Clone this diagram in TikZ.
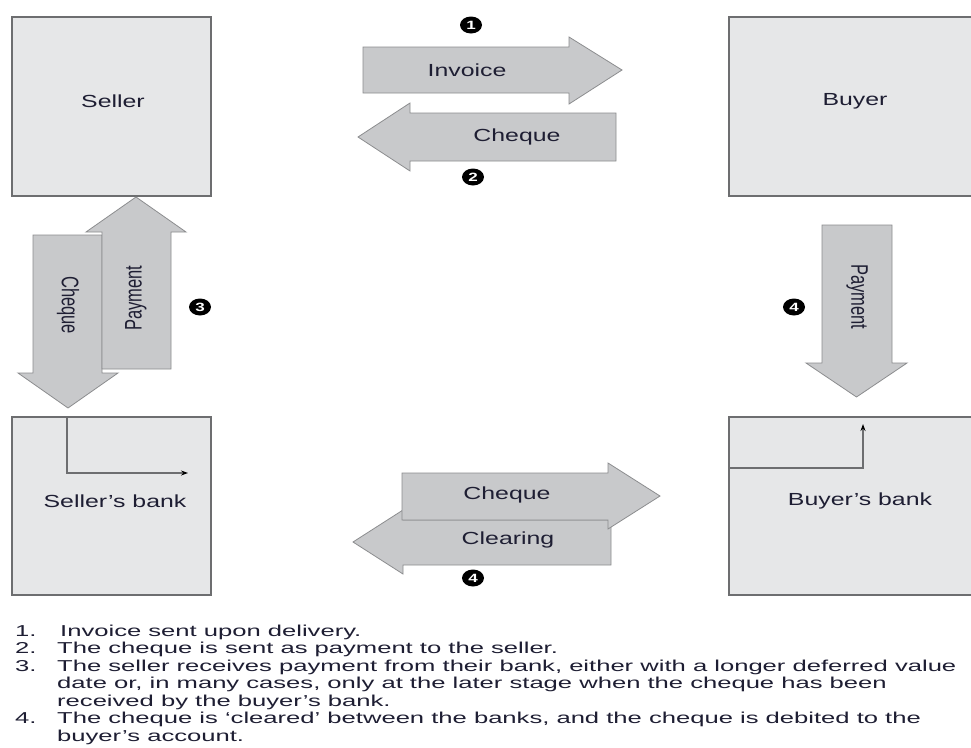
\documentclass[tikz,border=0pt]{standalone}
\usepackage{fontspec}
\setmainfont{Liberation Sans}
\newfontfamily\lblfont{Liberation Sans}[FakeStretch=1.42]
\newfontfamily\listfont{Liberation Sans}[FakeStretch=1.62]
\newfontfamily\rotfont{Liberation Sans}
\usetikzlibrary{shapes.geometric,arrows.meta}

\definecolor{boxfill}{HTML}{E6E7E8}
\definecolor{boxline}{HTML}{6D6E70}
\definecolor{arrowfill}{HTML}{C8C9CB}
\definecolor{arrowline}{HTML}{8C8D8F}
\definecolor{ink}{HTML}{1E1E33}

\newcommand{\rotlabel}[1]{\scalebox{1}[1.45]{\rotfont\fontsize{16.5}{18}\selectfont #1}}

\tikzset{
  party/.style={draw=boxline, fill=boxfill, line width=1.3pt, inner sep=0pt},
  flow/.style={draw=arrowline, fill=arrowfill, line width=0.8pt, line join=miter},
  lbl/.style={text=ink, font=\lblfont\fontsize{17.5}{20}\selectfont, inner sep=0pt},
  vlbl/.style={text=ink, inner sep=0pt},
  badge/.style={ellipse, fill=black, minimum width=22pt, minimum height=17pt,
    inner sep=0pt, text=white, font=\lblfont\bfseries\fontsize{12}{12}\selectfont},
  conn/.style={draw=boxline, line width=1.1pt, -{Stealth[length=7pt,width=5pt,color=black]}},
  listline/.style={anchor=west, text=ink, inner sep=0pt, text height=11pt, text depth=3pt,
    font=\listfont\fontsize{15.8}{17.5}\selectfont}
}

\begin{document}
\begin{tikzpicture}[x=1pt, y=-1pt]
  \fill[white] (0,0) rectangle (971,747);
  \useasboundingbox (0,0) rectangle (971,747);

  % the four parties
  \node[party, minimum width=199pt, minimum height=179pt] (seller) at (111.5,106.5) {};
  \node[party, minimum width=246pt, minimum height=179pt] (buyer) at (852,106.5) {};
  \node[party, minimum width=199pt, minimum height=178pt] (sbank) at (111.5,506) {};
  \node[party, minimum width=246pt, minimum height=178pt] (bbank) at (852,506) {};

  \node[lbl] (tseller) at (113,101) {Seller};
  \node[lbl] (tbuyer) at (855,101) {Buyer};
  \node[lbl] (tsbank) at (115,501) {Seller’s bank};
  \node[lbl] (tbbank) at (860,501) {Buyer’s bank};

  % routing inside the banks
  \coordinate (sbIn) at (67,417);
  \coordinate (sbOut) at (188,473);
  \draw[conn] (sbIn) |- (sbOut);
  \coordinate (bbIn) at (729,468);
  \coordinate (bbOut) at (863,424);
  \draw[conn] (bbIn) -| (bbOut);

  % 1: invoice, seller to buyer
  \draw[flow] (363,47) -- (569,47) -- (569,37) -- (622,70) -- (569,104) -- (569,93) -- (363,93) -- cycle;
  \node[lbl] (tinv) at (467,70) {Invoice};
  % 2: cheque, buyer to seller
  \draw[flow] (616,113) -- (410,113) -- (410,103) -- (358,137) -- (410,171) -- (410,161) -- (616,161) -- cycle;
  \node[lbl] (tchq) at (517,137) {Cheque};

  % 3: seller and seller's bank
  \draw[flow] (33,235) -- (102,235) -- (102,373) -- (118,373) -- (68,408) -- (18,373) -- (33,373) -- cycle;
  \node[vlbl, rotate=-90] (tchq3) at (68,305) {\rotlabel{Cheque}};
  \draw[flow] (102,369) -- (102,232) -- (86,232) -- (136,197) -- (186,232) -- (171,232) -- (171,369) -- cycle;
  \node[vlbl, rotate=90] (tpay3) at (136,298) {\rotlabel{Payment}};

  % 4: buyer's bank pays out
  \draw[flow] (822,225) -- (892,225) -- (892,363) -- (907,363) -- (856.5,397) -- (806,363) -- (822,363) -- cycle;
  \node[vlbl, rotate=-90] (tpay4) at (857,297) {\rotlabel{Payment}};

  % 4: clearing between the banks
  \draw[flow] (611,520) -- (403,520) -- (403,510) -- (353,542) -- (403,574) -- (403,565) -- (611,565) -- cycle;
  \draw[flow] (402,473) -- (608,473) -- (608,463) -- (660,496) -- (608,529) -- (608,520) -- (402,520) -- cycle;
  \node[lbl] (tchq4) at (507,495) {Cheque};
  \node[lbl] (tclr) at (508,540) {Clearing};

  % step markers
  \node[badge] (b1) at (471,25) {1};
  \node[badge] (b2) at (473,177) {2};
  \node[badge] (b3) at (200,307) {3};
  \node[badge] (b4a) at (794,307) {4};
  \node[badge] (b4b) at (473,578) {4};

  % notes
  \node[listline] (n1) at (15,632) {1.};
  \node[listline] (l1) at (60,632) {Invoice sent upon delivery.};
  \node[listline] (n2) at (15,649.5) {2.};
  \node[listline] (l2) at (57,649.5) {The cheque is sent as payment to the seller.};
  \node[listline] (n3) at (15,667) {3.};
  \node[listline] (l3) at (57,667) {The seller receives payment from their bank, either with a longer deferred value};
  \node[listline] (l4) at (57,684.5) {date or, in many cases, only at the later stage when the cheque has been};
  \node[listline] (l5) at (57,702) {received by the buyer’s bank.};
  \node[listline] (n4) at (15,719.5) {4.};
  \node[listline] (l6) at (57,719.5) {The cheque is ‘cleared’ between the banks, and the cheque is debited to the};
  \node[listline] (l7) at (57,737) {buyer’s account.};
\end{tikzpicture}
\end{document}
